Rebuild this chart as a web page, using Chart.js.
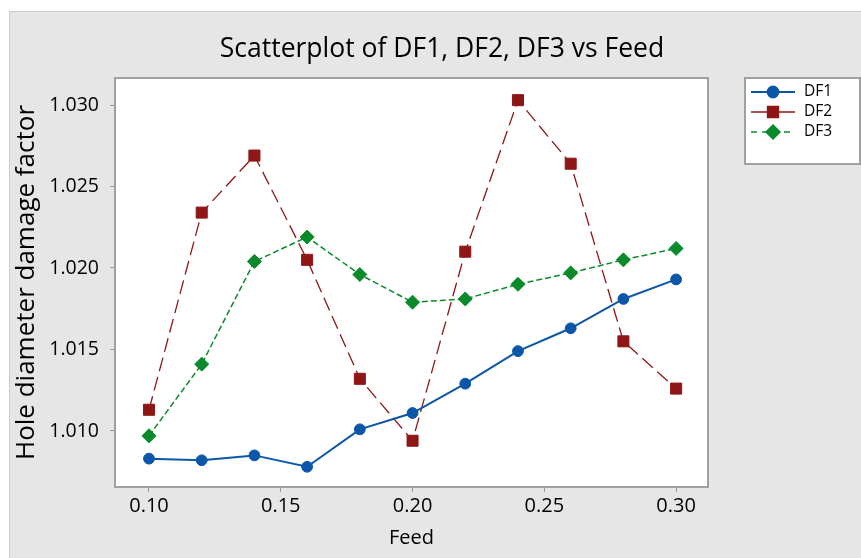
<!DOCTYPE html>
<html><head><meta charset="utf-8">
<script src="https://cdn.jsdelivr.net/npm/chart.js@4.4.1/dist/chart.umd.min.js"></script>
<style>html,body{margin:0;padding:0;background:#fff;}canvas{display:block;}</style>
</head><body>
<canvas id="c" width="861" height="558"></canvas>
<script>
const feed = [0.10, 0.12, 0.14, 0.16, 0.18, 0.20, 0.22, 0.24, 0.26, 0.28, 0.30];
const df1 = [1.0083, 1.0082, 1.0085, 1.0078, 1.0101, 1.0111, 1.0129, 1.0149, 1.0163, 1.0181, 1.0193];
const df2 = [1.0113, 1.0234, 1.0269, 1.0205, 1.0132, 1.0094, 1.0210, 1.0303, 1.0264, 1.0155, 1.0126];
const df3 = [1.0097, 1.0141, 1.0204, 1.0219, 1.0196, 1.0179, 1.0181, 1.0190, 1.0197, 1.0205, 1.0212];
const seriesNames = ['DF1', 'DF2', 'DF3'];
const xTickValues = [0.10, 0.15, 0.20, 0.25, 0.30];
const yTickValues = [1.010, 1.015, 1.020, 1.025, 1.030];
const titleText = 'Scatterplot of DF1, DF2, DF3 vs Feed';
const xTitle = 'Feed';
const yTitle = 'Hole diameter damage factor';

const FONT = "'Open Sans', sans-serif";
const CA = {left: 115, top: 78, right: 708, bottom: 487};
const TITLE_SIZE = 26.5;

function pts(ys) { return feed.map((x, i) => ({x: x, y: ys[i]})); }

const bgPlugin = {
  id: 'bg',
  beforeDraw(chart) {
    const ctx = chart.ctx, a = chart.chartArea;
    ctx.save();
    ctx.fillStyle = '#ffffff';
    ctx.fillRect(0, 0, chart.width, chart.height);
    ctx.fillStyle = '#e6e6e6';
    ctx.fillRect(9, 11, chart.width, chart.height);
    ctx.strokeStyle = '#cdcdcd';
    ctx.lineWidth = 1;
    ctx.beginPath();
    ctx.moveTo(9.5, chart.height); ctx.lineTo(9.5, 11.5); ctx.lineTo(chart.width, 11.5);
    ctx.stroke();
    ctx.fillStyle = '#ffffff';
    ctx.fillRect(a.left, a.top, a.right - a.left, a.bottom - a.top);
    ctx.restore();
  },
  beforeDatasetsDraw(chart) {
    const ctx = chart.ctx, a = chart.chartArea;
    ctx.save();
    ctx.strokeStyle = '#a0a0a0';
    ctx.lineWidth = 2;
    ctx.strokeRect(a.left, a.top, a.right - a.left, a.bottom - a.top);
    ctx.restore();
  }
};

const legendPlugin = {
  id: 'customLegend',
  afterDraw(chart) {
    const ctx = chart.ctx;
    const bx = 745, by = 78, bw = 115, bh = 86;
    ctx.save();
    ctx.fillStyle = '#ffffff';
    ctx.fillRect(bx, by, bw, bh);
    ctx.strokeStyle = '#a0a0a0';
    ctx.lineWidth = 2;
    ctx.strokeRect(bx, by, bw, bh);
    chart.data.datasets.forEach((ds, i) => {
      const y = 92 + i * 20;
      ctx.strokeStyle = ds.borderColor;
      ctx.lineWidth = ds.borderWidth;
      ctx.setLineDash(ds.legendDash || []);
      ctx.beginPath();
      ctx.moveTo(751, y); ctx.lineTo(795, y);
      ctx.stroke();
      ctx.setLineDash([]);
      ctx.fillStyle = ds.pointBackgroundColor;
      ctx.strokeStyle = ds.pointBorderColor;
      Chart.helpers.drawPoint(ctx, {pointStyle: ds.pointStyle, radius: ds.legendRadius, borderWidth: 1, rotation: 0}, 773, y);
      ctx.fillStyle = '#000';
      ctx.font = "15.5px " + FONT;
      ctx.textBaseline = 'middle';
      ctx.textAlign = 'left';
      ctx.fillText(ds.label, 804, y);
    });
    ctx.restore();
  }
};

const chart = new Chart(document.getElementById('c'), {
  type: 'scatter',
  data: {
    datasets: [
      {label: seriesNames[0], data: pts(df1), showLine: true, borderColor: '#0b56a8', borderWidth: 2,
       pointStyle: 'circle', pointRadius: 5.4, pointBackgroundColor: '#0b56a8', pointBorderColor: '#0b56a8', pointBorderWidth: 1,
       legendRadius: 5.4, legendDash: []},
      {label: seriesNames[1], data: pts(df2), showLine: true, borderColor: '#8e1616', borderWidth: 1.3, borderDash: [14, 6],
       pointStyle: 'rect', pointRadius: 7.8, pointBackgroundColor: '#8e1616', pointBorderColor: '#8e1616', pointBorderWidth: 1,
       legendRadius: 7.8, legendDash: []},
      {label: seriesNames[2], data: pts(df3), showLine: true, borderColor: '#0a8a2a', borderWidth: 1.5, borderDash: [6, 3],
       pointStyle: 'rectRot', pointRadius: 7, pointBackgroundColor: '#0a8a2a', pointBorderColor: '#0a8a2a', pointBorderWidth: 1,
       legendRadius: 7, legendDash: [6, 5]}
    ]
  },
  options: {
    responsive: false,
    animation: false,
    devicePixelRatio: 1,
    layout: {padding: {left: 23, top: 0, right: 0, bottom: 0}},
    plugins: {
      legend: {display: false},
      tooltip: {enabled: false},
      title: {display: true, text: titleText, color: '#000', font: {family: FONT, size: TITLE_SIZE, weight: 'normal'},
              padding: {top: 33.6, bottom: 78 - 33.6 - TITLE_SIZE * 1.2}}
    },
    scales: {
      x: {
        type: 'linear', position: 'bottom', min: 0.0871, max: 0.3121,
        afterBuildTicks(s) { s.ticks = xTickValues.map(v => ({value: v})); },
        afterFit(s) { s.height = 558 - CA.bottom; },
        ticks: {color: '#000', font: {family: FONT, size: 20}, padding: 2, callback: v => v.toFixed(2), maxRotation: 0},
        grid: {drawOnChartArea: false, drawTicks: true, tickLength: 5, color: '#999', lineWidth: 1},
        border: {display: false},
        title: {display: true, text: xTitle, color: '#000', font: {family: FONT, size: 20}, padding: {top: 0, bottom: 8}}
      },
      y: {
        type: 'linear', position: 'left', min: 1.00656, max: 1.03166,
        afterBuildTicks(s) { s.ticks = yTickValues.map(v => ({value: v})); },
        afterFit(s) { s.width = CA.left - 23; },
        ticks: {color: '#000', font: {family: FONT, size: 19.5}, padding: 11, callback: v => v.toFixed(3)},
        grid: {drawOnChartArea: false, drawTicks: true, tickLength: 5, color: '#999', lineWidth: 1},
        border: {display: false},
        title: {display: true, text: yTitle, color: '#000', font: {family: FONT, size: 26}, padding: {top: -11.6, bottom: 0}}
      },
      y2: {
        type: 'linear', position: 'right', display: true,
        afterFit(s) { s.width = 861 - CA.right; },
        ticks: {display: false},
        grid: {display: false},
        border: {display: false}
      }
    }
  },
  plugins: [bgPlugin, legendPlugin]
});
</script>
</body></html>
